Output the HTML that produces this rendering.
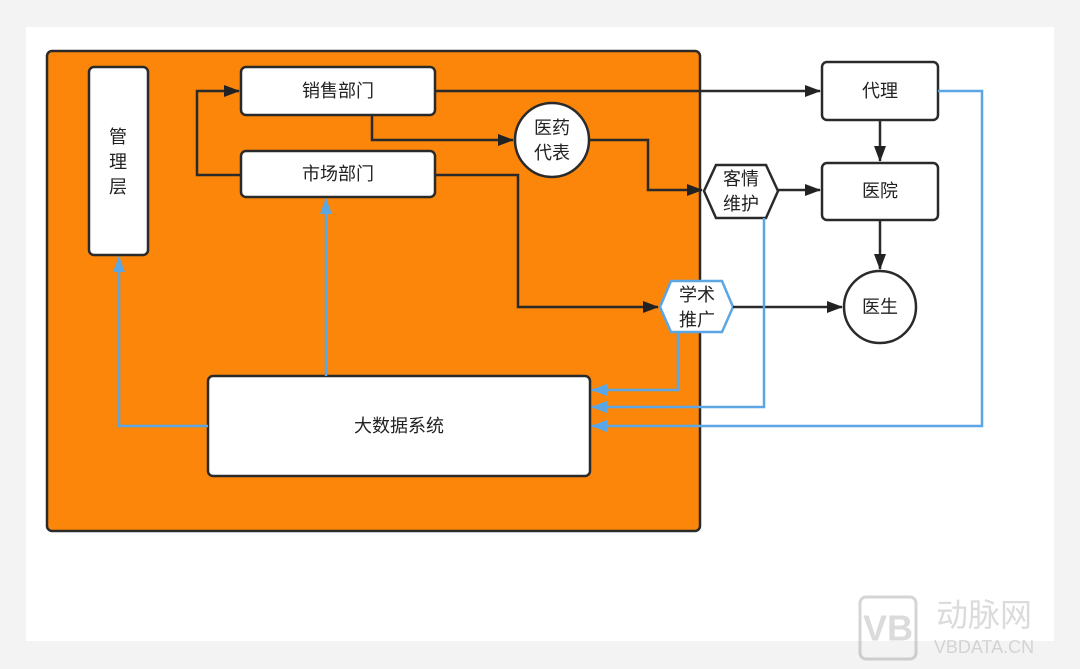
<!DOCTYPE html>
<html><head><meta charset="utf-8"><style>
body{margin:0;background:#f3f3f3;}
svg{display:block}
text{font-family:"Liberation Sans","Noto Sans CJK SC",sans-serif;font-size:18px;fill:#222;text-anchor:middle;dominant-baseline:central}
</style></head><body>
<svg width="1080" height="669" viewBox="0 0 1080 669">
<defs>
<marker id="a" markerWidth="16" markerHeight="12" refX="15" refY="6" orient="auto" markerUnits="userSpaceOnUse" viewBox="0 0 16 12"><path d="M0,0 L16,6 L0,12 z" fill="#222"/></marker>
<marker id="b" markerWidth="16" markerHeight="12" refX="15" refY="6" orient="auto" markerUnits="userSpaceOnUse" viewBox="0 0 16 12"><path d="M0,0 L16,6 L0,12 z" fill="#5ba6e4"/></marker>
</defs>
<rect x="26" y="27" width="1028" height="614" fill="#fff"/>
<rect x="47" y="51" width="653" height="480" rx="5" fill="#fb860a" stroke="#2a2a2a" stroke-width="2.5"/>
<g fill="#fff" stroke="#2a2a2a" stroke-width="2.5">
<rect x="89" y="67" width="59" height="188" rx="5"/>
<rect x="241" y="67" width="194" height="48" rx="5"/>
<rect x="241" y="151" width="194" height="46" rx="5"/>
<circle cx="552" cy="140" r="37"/>
<rect x="208" y="376" width="382" height="100" rx="5"/>
<rect x="822" y="62" width="116" height="58" rx="5"/>
<rect x="822" y="163" width="116" height="57" rx="5"/>
<circle cx="880" cy="307" r="36"/>
<polygon points="704,191 716,165 766,165 778,191 766,218 716,218"/>
</g>
<polygon points="660,307 671,281 722,281 733,307 722,332 671,332" fill="#fff" stroke="#5ba6e4" stroke-width="2.5"/>
<g fill="none" stroke="#2a2a2a" stroke-width="2.5">
<path d="M435,91 H820" marker-end="url(#a)"/>
<path d="M372,115 V140 H513" marker-end="url(#a)"/>
<path d="M241,175 H197 V91 H239" marker-end="url(#a)"/>
<path d="M589,140 H648 V190 H702" marker-end="url(#a)"/>
<path d="M435,175 H518 V307 H658" marker-end="url(#a)"/>
<path d="M778,190 H820" marker-end="url(#a)"/>
<path d="M880,120 V161" marker-end="url(#a)"/>
<path d="M880,220 V269" marker-end="url(#a)"/>
<path d="M733,307 H842" marker-end="url(#a)"/>
</g>
<g fill="none" stroke="#5ba6e4" stroke-width="2.5">
<path d="M678,332 V390 H592" marker-end="url(#b)"/>
<path d="M764,218 V407 H592" marker-end="url(#b)"/>
<path d="M938,91 H982 V426 H592" marker-end="url(#b)"/>
<path d="M326,376 V199" marker-end="url(#b)"/>
<path d="M208,426 H119 V257" marker-end="url(#b)"/>
</g>
<text x="118" y="137">管</text><text x="118" y="162">理</text><text x="118" y="187">层</text>
<text x="338" y="91">销售部门</text>
<text x="338" y="174">市场部门</text>
<text x="552" y="128">医药</text><text x="552" y="153">代表</text>
<text x="399" y="426">大数据系统</text>
<text x="880" y="91">代理</text>
<text x="880" y="191">医院</text>
<text x="880" y="307">医生</text>
<text x="741" y="179">客情</text><text x="741" y="204">维护</text>
<text x="697" y="295">学术</text><text x="697" y="320">推广</text>
<g opacity="0.35">
<rect x="860" y="597" width="56" height="62" rx="6" fill="none" stroke="#888" stroke-width="3"/>
<text x="888" y="628" style="font-size:36px;font-weight:bold;fill:#999">VB</text>
<text x="984" y="615" style="font-size:32px;fill:#999">动脉网</text>
<text x="984" y="647" style="font-size:18px;fill:#999">VBDATA.CN</text>
</g>
</svg>
</body></html>
